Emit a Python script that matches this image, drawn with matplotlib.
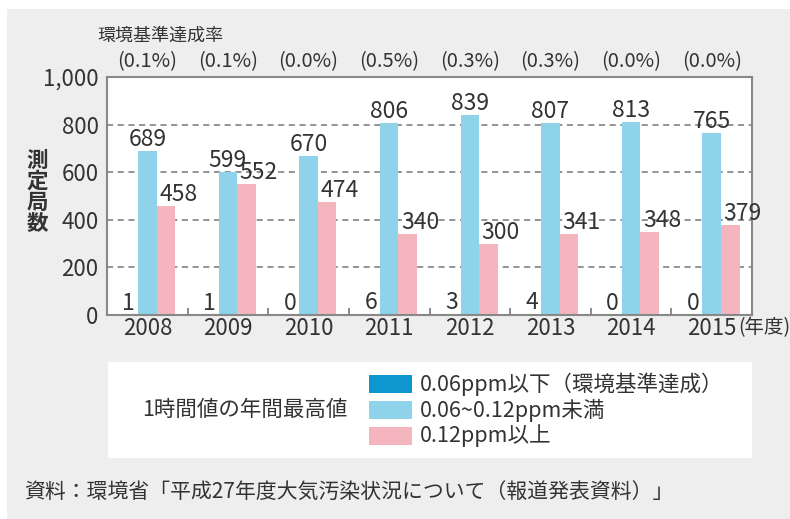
import matplotlib
matplotlib.use("Agg")
import matplotlib.pyplot as plt
from matplotlib.patches import Rectangle
import numpy as np

plt.rcParams['font.family'] = ['Noto Sans CJK JP', 'DejaVu Sans']

years = ['2008', '2009', '2010', '2011', '2012', '2013', '2014', '2015']
below_006 = [1, 1, 0, 6, 3, 4, 0, 0]
mid_006_012 = [689, 599, 670, 806, 839, 807, 813, 765]
above_012 = [458, 552, 474, 340, 300, 341, 348, 379]
rates = ['(0.1%)', '(0.1%)', '(0.0%)', '(0.5%)', '(0.3%)', '(0.3%)', '(0.0%)', '(0.0%)']
series_labels = ['0.06ppm以下（環境基準達成）', '0.06~0.12ppm未満', '0.12ppm以上']
colors = ['#0e96cf', '#8ed3ea', '#f5b5be']
text_c = '#333333'

W, H = 790, 519
fig = plt.figure(figsize=(W / 100, H / 100), dpi=100, facecolor='white')

def fx(px):
    return px / W

def fy(py):
    return 1 - py / H

# gray background panel
fig.patches.append(Rectangle((fx(7), 0), 1 - fx(7), fy(9), transform=fig.transFigure,
                             facecolor='#eeeeee', edgecolor='none', zorder=-10))

ax = fig.add_axes([fx(107), fy(315), fx(752) - fx(107), fy(77) - fy(315)])
ax.set_facecolor('white')

x = np.arange(len(years)) + 0.5
bw = 0.23
series = [below_006, mid_006_012, above_012]
offsets = [-bw, 0, bw]
for vals, off, c in zip(series, offsets, colors):
    ax.bar(x + off, vals, width=bw, color=c, zorder=2)

vfs = 16.5
for i in range(len(years)):
    for k, (vals, off) in enumerate(zip(series, offsets)):
        dx = 9 if k == 2 else 0
        ax.annotate(f'{vals[i]}', (x[i] + off, vals[i]), xytext=(dx, 0),
                    textcoords='offset points', ha='center', va='bottom',
                    fontsize=vfs, color=text_c, zorder=3)

tfs = 16
ax.set_xlim(0, len(years))
ax.set_ylim(0, 1000)
ax.set_yticks([0, 200, 400, 600, 800, 1000])
ax.set_yticklabels(['0', '200', '400', '600', '800', '1,000'], fontsize=tfs, color=text_c)
ax.tick_params(axis='y', length=0, pad=6)
for yv in [200, 400, 600, 800]:
    ax.axhline(yv, color='#777777', lw=1.1, ls=(0, (4, 3)), zorder=1)

ax.set_xticks(np.arange(1, len(years)))
ax.set_xticklabels([])
ax.tick_params(axis='x', direction='in', length=5, color='#777777', width=1.2)
for i, y in enumerate(years):
    ax.text(x[i], -10, y, ha='center', va='top',
            fontsize=tfs, color=text_c, clip_on=False)
ax.text(x[-1] + 0.33, -10, '(年度)', ha='left', va='top', fontsize=14,
        color=text_c, clip_on=False)

for s in ax.spines.values():
    s.set_color('#888888')
    s.set_linewidth(1.5)

# rates above plot
for i, r in enumerate(rates):
    ax.text(x[i], 1065, r, ha='center', va='center', fontsize=14.5,
            color=text_c, clip_on=False)
fig.text(fx(97), fy(36), '環境基準達成率', ha='left', va='center', fontsize=13, color=text_c)

# y label stacked
fig.text(fx(37), fy(192), '測\n定\n局\n数', ha='center', va='center', fontsize=15.5,
         color=text_c, linespacing=1.0, fontweight='bold')

# legend box
fig.patches.append(Rectangle((fx(108), fy(458)), fx(752) - fx(108), fy(362) - fy(458),
                             transform=fig.transFigure, facecolor='white',
                             edgecolor='none', zorder=0))
fig.text(fx(245), fy(410), '1時間値の年間最高値', ha='center', va='center',
         fontsize=15.5, color=text_c)
row_y = [384, 410, 436]
for c, lab, ry in zip(colors, series_labels, row_y):
    fig.patches.append(Rectangle((fx(369), fy(ry + 9)), fx(412) - fx(369), fy(ry - 9) - fy(ry + 9),
                                 transform=fig.transFigure, facecolor=c,
                                 edgecolor='none', zorder=1))
    fig.text(fx(420), fy(ry), lab, ha='left', va='center', fontsize=15.5, color=text_c)

fig.text(fx(24), fy(492), '資料：環境省「平成27年度大気汚染状況について（報道発表資料）」',
         ha='left', va='center', fontsize=15, color=text_c)

fig.savefig('out.png', dpi=100, facecolor=fig.get_facecolor())
